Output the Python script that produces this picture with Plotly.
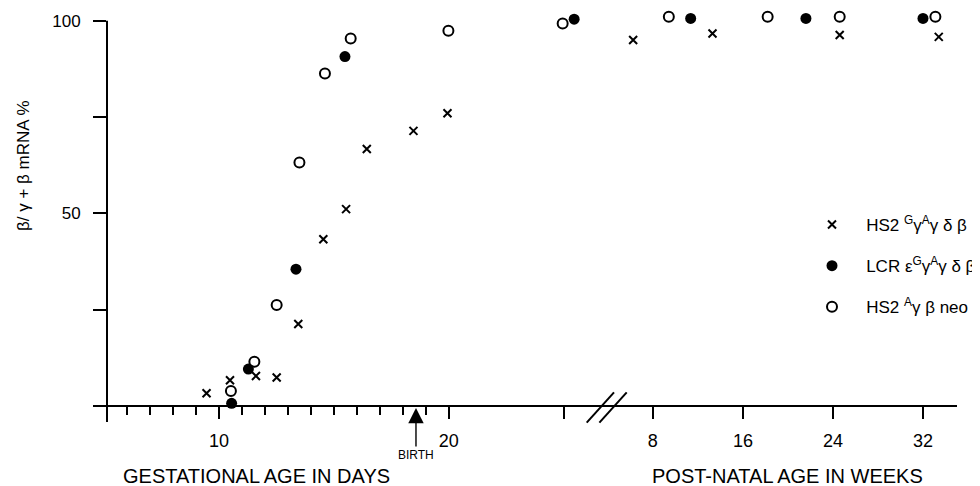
import plotly.graph_objects as go

# ---------------- data ----------------
# HS2 GγAγδβ  (x markers)
hs2_days = [9.46, 10.48, 11.61, 12.51, 13.45, 14.54, 15.53, 16.43, 18.46, 19.94]
hs2_days_pct = [3.3, 6.7, 7.8, 7.4, 21.3, 43.3, 51.1, 66.7, 71.4, 76.0]
hs2_weeks = [6.25, 13.3, 24.6, 33.4]
hs2_weeks_pct = [95.0, 96.7, 96.3, 95.8]

# LCR εGγAγδβ  (filled circles)
lcr_days = [10.55, 11.28, 13.35, 15.48, 25.45]
lcr_days_pct = [0.7, 9.6, 35.5, 90.7, 100.4]
lcr_weeks = [11.36, 21.6, 32.0]
lcr_weeks_pct = [100.6, 100.6, 100.6]

# HS2 Aγβ neo  (open circles)
neo_days = [10.52, 11.54, 12.51, 13.5, 14.61, 15.73, 19.98, 24.95]
neo_days_pct = [3.9, 11.5, 26.2, 63.2, 86.3, 95.4, 97.4, 99.3]
neo_weeks = [9.42, 18.2, 24.6, 33.1]
neo_weeks_pct = [101.0, 101.0, 101.0, 101.0]

day_ticks = [10, 20, 25]
day_tick_labels = ["10", "20", ""]
day_minor_ticks = [6, 7, 8, 9, 11, 12, 13, 14, 15, 16, 17, 18, 19]
week_ticks = [8, 16, 24, 32]
week_tick_labels = ["8", "16", "24", "32"]
y_ticks = [0, 25, 50, 75, 100]
y_tick_labels = ["", "", "50", "", "100"]
birth_day = 18.57

legend_names = [
    "\u00a0\u00a0\u00a0HS2 <sup>G</sup>γ<sup>A</sup>γ δ β",
    "\u00a0\u00a0\u00a0LCR ε<sup>G</sup>γ<sup>A</sup>γ δ β",
    "\u00a0\u00a0\u00a0HS2 <sup>A</sup>γ β neo",
]

FONT = "Liberation Sans, Arial, sans-serif"
INK = "black"

fig = go.Figure()

styles = [
    dict(symbol="x-thin-open", size=8, color=INK, line=dict(width=2, color=INK)),
    dict(symbol="circle", size=11, color=INK, line=dict(width=0)),
    dict(symbol="circle-open", size=10, color=INK, line=dict(width=2, color=INK)),
]
series = [
    (hs2_days, hs2_days_pct, hs2_weeks, hs2_weeks_pct),
    (lcr_days, lcr_days_pct, lcr_weeks, lcr_weeks_pct),
    (neo_days, neo_days_pct, neo_weeks, neo_weeks_pct),
]

for i, (dx, dy, wx, wy) in enumerate(series):
    g = f"g{i}"
    fig.add_trace(go.Scatter(x=dx, y=dy, mode="markers", marker=styles[i],
                             name=legend_names[i], legendgroup=g,
                             xaxis="x", yaxis="y", cliponaxis=False))
    fig.add_trace(go.Scatter(x=wx, y=wy, mode="markers", marker=styles[i],
                             name=legend_names[i], legendgroup=g, showlegend=False,
                             xaxis="x2", yaxis="y", cliponaxis=False))

# geometry: the page body adds an 8px offset, so the figure is laid out
# 8px up/left of the target window coordinates
OFF = 8
W, H = 980 - OFF, 486 - OFF
L, T = 107 - OFF, 12 - OFF
R = W - (957 - OFF)
B = H - (422 - OFF)
PW, PH = W - L - R, H - T - B
Y0, Y1 = -4.15, 102.26
x_axis_pos = (0 - Y0) / (Y1 - Y0)
split = 0.588


def px_to_paper(px, py):
    return (px - OFF - L) / PW, (H - B - (py - OFF)) / PH


def y_to_paper(v):
    return (v - Y0) / (Y1 - Y0)


axis_common = dict(showline=True, linewidth=2, linecolor=INK, showgrid=False,
                   zeroline=False, ticks="outside", ticklen=12, tickwidth=1.5,
                   tickcolor=INK, anchor="free", position=x_axis_pos,
                   tickfont=dict(family=FONT, size=18, color=INK),
                   ticklabelstandoff=6, fixedrange=True)

fig.update_layout(
    width=W, height=H,
    margin=dict(l=L, r=R, t=T, b=B, autoexpand=False),
    paper_bgcolor="white", plot_bgcolor="white",
    font=dict(family=FONT, size=17, color=INK),
    xaxis=dict(domain=[0, split], range=[5.13, 26.87], tickmode="array",
               tickvals=day_ticks, ticktext=day_tick_labels,
               minor=dict(tickmode="array", tickvals=day_minor_ticks, ticks="outside",
                          ticklen=8, tickwidth=1.5, tickcolor=INK),
               **axis_common),
    xaxis2=dict(domain=[split, 1], range=[3.91, 35.02], tickmode="array",
                tickvals=week_ticks, ticktext=week_tick_labels, **axis_common),
    yaxis=dict(range=[Y0, Y1], showline=False, showgrid=False, zeroline=False,
               ticks="outside", ticklen=13, tickwidth=1.5, tickcolor=INK,
               tickmode="array", tickvals=y_ticks, ticktext=y_tick_labels,
               ticklabelstandoff=9,
               tickfont=dict(family=FONT, size=17, color=INK), fixedrange=True),
    showlegend=True,
    legend=dict(x=px_to_paper(812, 0)[0], y=px_to_paper(0, 207)[1],
                xanchor="left", yanchor="top",
                font=dict(family=FONT, size=17, color=INK),
                tracegroupgap=16, bgcolor="rgba(0,0,0,0)", borderwidth=0),
)

# y-axis line: from the bottom of the plot up to 100 only
fig.add_shape(type="line", xref="paper", yref="paper", x0=0, x1=0,
              y0=0, y1=y_to_paper(100), line=dict(color=INK, width=2))

# axis titles
fig.add_annotation(text="GESTATIONAL AGE IN DAYS", xref="paper", yref="paper",
                   x=px_to_paper(256, 0)[0], y=px_to_paper(0, 476)[1],
                   xanchor="center", yanchor="middle",
                   showarrow=False, font=dict(family=FONT, size=20, color=INK))
fig.add_annotation(text="POST-NATAL AGE IN WEEKS", xref="paper", yref="paper",
                   x=px_to_paper(787, 0)[0], y=px_to_paper(0, 476)[1],
                   xanchor="center", yanchor="middle",
                   showarrow=False, font=dict(family=FONT, size=20, color=INK))
fig.add_annotation(text="β/ γ + β mRNA %", xref="paper", yref="paper",
                   x=px_to_paper(23, 0)[0], y=px_to_paper(0, 166)[1], textangle=-90,
                   xanchor="center", yanchor="middle",
                   showarrow=False, font=dict(family=FONT, size=17, color=INK))

# birth arrow
fig.add_annotation(text="BIRTH", xref="x", yref="y", x=birth_day, y=-0.5,
                   ax=0, ay=47, showarrow=True, arrowhead=2, arrowsize=2.2,
                   arrowwidth=1.4, arrowcolor=INK,
                   font=dict(family=FONT, size=12, color=INK))

# axis break marks
for off in (0, 12.7):
    x0, y0 = px_to_paper(586.7 + off, 422.7)
    x1, y1 = px_to_paper(614 + off, 392.3)
    fig.add_shape(type="line", xref="paper", yref="paper", x0=x0, y0=y0, x1=x1, y1=y1,
                  line=dict(color=INK, width=2))

fig.write_html("out.html")
